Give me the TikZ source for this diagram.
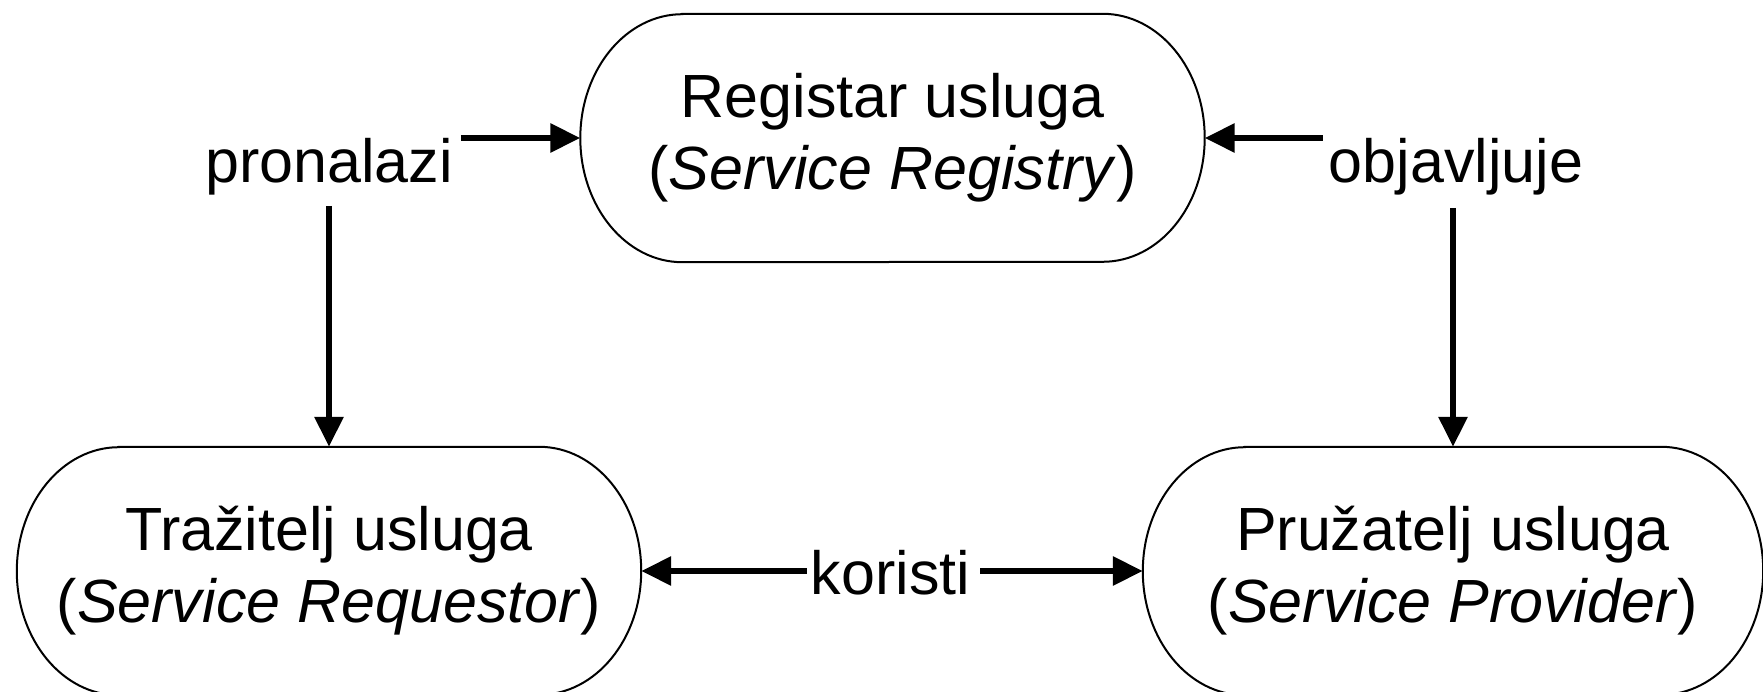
\documentclass[tikz,border=0pt]{standalone}
\usepackage{fontspec}
\setmainfont{Liberation Sans}
\usetikzlibrary{arrows.meta,calc}
\begin{document}
\begin{tikzpicture}[x=1pt,y=1pt,
  every node/.style={font=\fontsize{61}{72}\selectfont, inner sep=0pt},
  party/.style={minimum width=624pt, minimum height=248pt, align=center},
  outline/.style={line width=2pt},
  arr/.style={line width=6pt, -{Triangle[length=30pt,width=28pt]}},
  verb/.style={anchor=base}]
\fill[white] (0,0) rectangle (1763,691);
\useasboundingbox (0,0) rectangle (1763,691);

% the three roles
\node[party] (reg) at (892.5,553) {Registar usluga\\(\textit{Service Registry})};
\node[party] (req) at (329,120) {Tražitelj usluga\\(\textit{Service Requestor})};
\node[party, minimum width=620pt] (prov) at (1453,120) {Pružatelj usluga\\(\textit{Service Provider})};

% the operations between them
\node[verb] (find) at (329,508) {pronalazi};
\node[verb] (pub) at (1456,508) {objavljuje};
\node[verb] (use) at (890.5,97) {koristi};

% flat top and bottom with half-elliptic ends
\foreach \n in {reg,req,prov} {
  \draw[outline] ([xshift=102pt]\n.north west) -- ([xshift=-102pt]\n.north east)
    arc[start angle=90, end angle=-90, x radius=102pt, y radius=124pt]
    -- ([xshift=102pt]\n.south west)
    arc[start angle=270, end angle=90, x radius=102pt, y radius=124pt] -- cycle;
}

% connectors
\draw[arr] ($(find.east |- reg.west)+(8,0)$) -- (reg.west);
\draw[arr] ($(find.south)+(0,-10)$) -- (req.north);
\draw[arr] ($(pub.west |- reg.east)+(-6,0)$) -- (reg.east);
\draw[arr] ($(pub.south -| prov.north)+(0,-12)$) -- (prov.north);
\draw[arr] ($(use.west |- req.east)+(-4,0)$) -- (req.east);
\draw[arr] ($(use.east |- prov.west)+(10,0)$) -- (prov.west);
\end{tikzpicture}
\end{document}
